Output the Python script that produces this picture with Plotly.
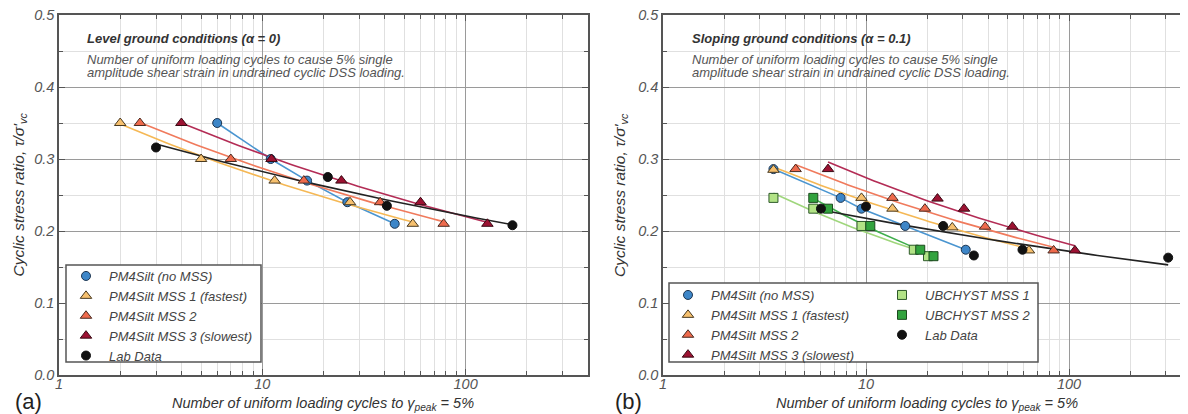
import numpy as np
import plotly.graph_objects as go

# ---------------- data : panel (a) level ground ----------------
a_nomss_n = [6.0, 11.0, 16.6, 26.2, 44.8]
a_nomss_csr = [0.35, 0.30, 0.27, 0.24, 0.21]
a_mss1_n = [2.0, 5.0, 11.5, 27.0, 55.0]
a_mss1_csr = [0.35, 0.30, 0.27, 0.24, 0.21]
a_mss2_n = [2.5, 7.0, 16.0, 38.0, 78.0]
a_mss2_csr = [0.35, 0.30, 0.27, 0.24, 0.21]
a_mss3_n = [4.0, 11.1, 24.5, 60.0, 128.0]
a_mss3_csr = [0.35, 0.30, 0.27, 0.24, 0.21]
a_lab_n = [3.0, 21.0, 41.0, 170.0]
a_lab_csr = [0.316, 0.275, 0.235, 0.208]

# ---------------- data : panel (b) sloping ground ----------------
b_nomss_n = [3.5, 7.5, 9.5, 15.6, 31.0]
b_nomss_csr = [0.286, 0.246, 0.231, 0.207, 0.174]
b_mss1_n = [3.5, 9.5, 13.5, 26.6, 63.5]
b_mss1_csr = [0.285, 0.246, 0.231, 0.205, 0.173]
b_mss2_n = [4.5, 13.5, 19.5, 38.6, 84.0]
b_mss2_csr = [0.286, 0.246, 0.231, 0.206, 0.173]
b_mss3_n = [6.5, 22.5, 30.4, 52.6, 107.0]
b_mss3_csr = [0.286, 0.245, 0.231, 0.206, 0.173]
b_ubc1_n = [3.5, 5.5, 9.5, 17.2, 20.2]
b_ubc1_csr = [0.246, 0.231, 0.207, 0.174, 0.165]
b_ubc2_n = [5.5, 6.5, 10.5, 18.5, 21.5]
b_ubc2_csr = [0.246, 0.231, 0.207, 0.174, 0.165]
b_lab_n = [6.0, 10.0, 24.0, 34.0, 59.0, 308.0]
b_lab_csr = [0.231, 0.234, 0.207, 0.166, 0.174, 0.163]

names = ["PM4Silt (no MSS)", "PM4Silt MSS 1 (fastest)", "PM4Silt MSS 2",
         "PM4Silt MSS 3 (slowest)", "UBCHYST MSS 1", "UBCHYST MSS 2", "Lab Data"]

FONT = "Liberation Sans, Arial, sans-serif"
# the page body keeps an 8px margin, so the figure sits at (8, 8) in the window
OFF = 8
W, H = 1188 - OFF, 414 - OFF


def PX(px):
    return (px - OFF) / W


def PY(py):
    return (H - (py - OFF)) / H


STY = {
    "nomss": dict(line="#4a95d0", fill="#3d86c8", edge="#1d3550", sym="circle", size=9),
    "mss1": dict(line="#f5b855", fill="#f6c06e", edge="#4a3a20", sym="triangle-up", size=10),
    "mss2": dict(line="#f07a5c", fill="#ee6a4c", edge="#4a2a20", sym="triangle-up", size=10),
    "mss3": dict(line="#b32c55", fill="#9c1232", edge="#3a0a14", sym="triangle-up", size=10),
    "ubc1": dict(line="#9fd67c", fill="#b2e386", edge="#2e5a2a", sym="square", size=9),
    "ubc2": dict(line="#3fae4c", fill="#32a33e", edge="#1c4a1e", sym="square", size=9),
    "lab": dict(line="#222222", fill="#111111", edge="#111111", sym="circle", size=9),
}


def powfit(n, csr):
    n = np.asarray(n, float)
    c = np.asarray(csr, float)
    b, a = np.polyfit(np.log(n), np.log(c), 1)
    xs = np.geomspace(n.min(), n.max(), 60)
    return xs, np.exp(a) * xs ** b


fig = go.Figure()


def add_line(x, y, key, xa, ya, fit=True):
    s = STY[key]
    if fit:
        xs, ys = powfit(x, y)
    else:
        xs, ys = x, y
    fig.add_trace(go.Scatter(x=xs, y=ys, mode="lines", xaxis=xa, yaxis=ya,
                             line=dict(color=s["line"], width=1.6),
                             showlegend=False, hoverinfo="skip"))


def add_pts(x, y, key, name, xa, ya, legend):
    s = STY[key]
    fig.add_trace(go.Scatter(x=x, y=y, mode="markers", name=name, xaxis=xa, yaxis=ya,
                             legend=legend, legendgroup=name + legend,
                             marker=dict(symbol=s["sym"], size=s["size"], color=s["fill"],
                                         line=dict(color=s["edge"], width=1))))


# panel (a)
add_line(a_nomss_n, a_nomss_csr, "nomss", "x", "y", fit=False)
add_line(a_mss1_n, a_mss1_csr, "mss1", "x", "y")
add_line(a_mss2_n, a_mss2_csr, "mss2", "x", "y")
add_line(a_mss3_n, a_mss3_csr, "mss3", "x", "y")
add_line(a_lab_n, a_lab_csr, "lab", "x", "y")
add_pts(a_nomss_n, a_nomss_csr, "nomss", names[0], "x", "y", "legend")
add_pts(a_mss1_n, a_mss1_csr, "mss1", names[1], "x", "y", "legend")
add_pts(a_mss2_n, a_mss2_csr, "mss2", names[2], "x", "y", "legend")
add_pts(a_mss3_n, a_mss3_csr, "mss3", names[3], "x", "y", "legend")
add_pts(a_lab_n, a_lab_csr, "lab", names[6], "x", "y", "legend")

# panel (b)
add_line(b_nomss_n, b_nomss_csr, "nomss", "x2", "y2", fit=False)
add_line(b_mss1_n, b_mss1_csr, "mss1", "x2", "y2")
add_line(b_mss2_n, b_mss2_csr, "mss2", "x2", "y2")
add_line(b_mss3_n, b_mss3_csr, "mss3", "x2", "y2")
add_line(b_ubc1_n, b_ubc1_csr, "ubc1", "x2", "y2")
add_line(b_ubc2_n, b_ubc2_csr, "ubc2", "x2", "y2")
add_line(b_lab_n, b_lab_csr, "lab", "x2", "y2")
add_pts(b_nomss_n, b_nomss_csr, "nomss", names[0], "x2", "y2", "legend2")
add_pts(b_mss1_n, b_mss1_csr, "mss1", names[1], "x2", "y2", "legend2")
add_pts(b_mss2_n, b_mss2_csr, "mss2", names[2], "x2", "y2", "legend2")
add_pts(b_mss3_n, b_mss3_csr, "mss3", names[3], "x2", "y2", "legend2")
add_pts(b_ubc1_n, b_ubc1_csr, "ubc1", names[4], "x2", "y2", "legend3")
add_pts(b_ubc2_n, b_ubc2_csr, "ubc2", names[5], "x2", "y2", "legend3")
add_pts(b_lab_n, b_lab_csr, "lab", names[6], "x2", "y2", "legend3")

# ---------------- axes ----------------
ydom = [PY(375), PY(15)]
tickfont = dict(family=FONT, size=14.5, color="#555", style="italic")
MAJ = "#9a9a9a"
MIN = "#e0e0e0"
AX = "#555"


def xax(domain, rmax, mirror, anchor):
    return dict(type="log", domain=domain, range=[0, rmax], anchor=anchor,
                tickvals=[1, 10, 100], ticktext=["1", "10", "100"],
                ticks="inside", ticklen=6, tickcolor=AX, tickwidth=1.2,
                showline=True, linecolor=AX, linewidth=1.5, mirror=mirror,
                showgrid=True, gridcolor=MAJ, gridwidth=1, zeroline=False,
                automargin=False, ticklabeloverflow="allow", ticklabelstandoff=-5,
                minor=dict(tickvals=[2, 3, 4, 5, 6, 7, 8, 9, 20, 30, 40, 50, 60, 70, 80, 90, 200, 300],
                           ticks="inside", ticklen=4, tickcolor=AX, showgrid=True,
                           gridcolor=MIN, gridwidth=1),
                tickfont=tickfont)


def yax(anchor, mirror):
    return dict(domain=ydom, range=[0, 0.5], anchor=anchor,
                tickvals=[0, 0.1, 0.2, 0.3, 0.4, 0.5],
                ticktext=["0.0", "0.1", "0.2", "0.3", "0.4", "0.5"],
                ticks="inside", ticklen=6, tickcolor=AX, tickwidth=1.2,
                showline=True, linecolor=AX, linewidth=1.5, mirror=mirror,
                showgrid=True, gridcolor=MAJ, gridwidth=1, zeroline=False,
                automargin=False, ticklabeloverflow="allow",
                minor=dict(tickvals=[0.05, 0.15, 0.25, 0.35, 0.45], ticks="inside",
                           ticklen=4, tickcolor=AX, showgrid=True, gridcolor=MIN),
                tickfont=tickfont)


legfont = dict(family=FONT, size=13, color="#444", style="italic")


def legend_at(xpx, ytop_px):
    return dict(x=PX(xpx), y=PY(ytop_px), xanchor="left", yanchor="top",
                bgcolor="rgba(0,0,0,0)", borderwidth=0, font=legfont,
                tracegroupgap=0, itemwidth=36, itemclick=False)


fig.update_layout(
    width=W, height=H, margin=dict(l=0, r=0, t=0, b=0, pad=0, autoexpand=False),
    paper_bgcolor="white", plot_bgcolor="white",
    font=dict(family=FONT),
    xaxis=xax([PX(59), PX(588)], np.log10(400), "allticks", "y"),
    yaxis=yax("x", "allticks"),
    xaxis2=xax([PX(663), 1.0], (1188 - 663) / 203.0, "allticks", "y2"),
    yaxis2=yax("x2", False),
    legend=legend_at(63, 261),
    legend2=legend_at(665, 280),
    legend3=legend_at(879, 280),
    showlegend=True,
)

# legend frames
for (x0, y0, x1, y1) in [(66, 265, 261, 362), (669, 283, 1038, 362)]:
    fig.add_shape(type="rect", xref="paper", yref="paper",
                  x0=PX(x0), x1=PX(x1), y0=PY(y1), y1=PY(y0),
                  line=dict(color=AX, width=1.5), fillcolor="white", layer="above")


def ann(text, xpx, ypx, size, color="#333", weight="normal", style="italic",
        xanchor="left", angle=0):
    fig.add_annotation(text=text, x=PX(xpx), y=PY(ypx), xref="paper", yref="paper",
                       xanchor=xanchor, yanchor="middle", showarrow=False, textangle=angle,
                       font=dict(family=FONT, size=size, color=color, weight=weight, style=style))


ann("Level ground conditions (α = 0)", 85, 39, 13, "#333", "bold")
ann("Number of uniform loading cycles to cause 5% single", 85, 60, 13, "#555")
ann("amplitude shear strain in undrained cyclic DSS loading.", 85, 73, 13, "#555")
ann("Sloping ground conditions (α = 0.1)", 690, 39, 13, "#333", "bold")
ann("Number of uniform loading cycles to cause 5% single", 690, 60, 13, "#555")
ann("amplitude shear strain in undrained cyclic DSS loading.", 690, 73, 13, "#555")

xt = "Number of uniform loading cycles to γ<sub>peak</sub> = 5%"
ann(xt, 323, 404, 14.5, "#333", xanchor="center")
ann(xt, 927, 404, 14.5, "#333", xanchor="center")
yt = "Cyclic stress ratio, τ/σ'<sub>vc</sub>"
ann(yt, 18.5, 195, 15.5, "#333", xanchor="center", angle=-90)
ann(yt, 620, 195, 15.5, "#333", xanchor="center", angle=-90)
ann("(a)", 28, 401, 22, "#222", style="normal", xanchor="center")
ann("(b)", 628, 401, 22, "#222", style="normal", xanchor="center")

fig.write_html("out.html")
